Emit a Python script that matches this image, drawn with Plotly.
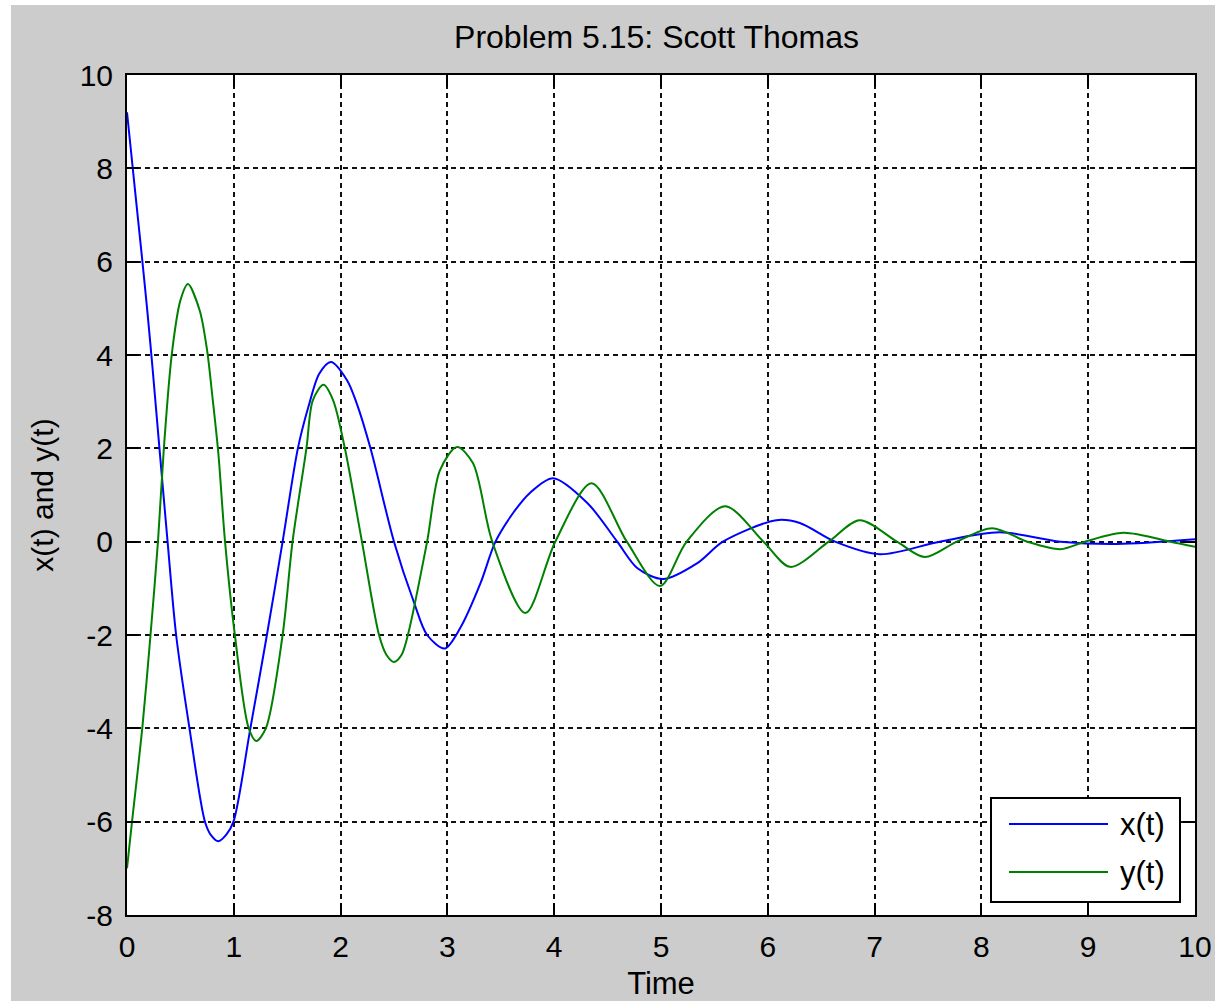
import plotly.graph_objects as go

# ---- data ----
t_x = [0.0, 0.045, 0.09, 0.14, 0.19, 0.24, 0.30, 0.38, 0.46, 0.585,
       0.73, 0.79, 0.855, 0.93, 0.997, 1.155, 1.31, 1.457, 1.60, 1.70,
       1.80, 1.91, 2.06, 2.15, 2.28, 2.50, 2.69, 2.81, 2.975, 3.12,
       3.31, 3.45, 3.62, 3.77, 3.99, 4.31, 4.59, 4.78, 5.02, 5.34,
       5.58, 6.08, 6.30, 6.63, 7.05, 7.61, 8.17, 8.74, 9.27, 10.0]
x_vals = [9.2, 8.2, 7.2, 6.1, 4.95, 3.7, 2.1, 0.0, -2.0, -4.0,
          -6.0, -6.3, -6.42, -6.28, -6.0, -4.0, -2.0, 0.0, 2.0, 2.9,
          3.6, 3.85, 3.46, 2.97, 2.0, 0.0, -1.32, -2.0, -2.29, -1.85,
          -0.89, 0.0, 0.63, 1.04, 1.36, 0.83, 0.0, -0.57, -0.80, -0.46,
          0.0, 0.46, 0.40, 0.0, -0.27, 0.0, 0.20, 0.0, -0.05, 0.05]

t_y = [0.0, 0.047, 0.143, 0.22, 0.29, 0.345, 0.42, 0.50, 0.57, 0.68,
       0.75, 0.80, 0.855, 0.918, 1.01, 1.14, 1.21, 1.30, 1.457, 1.55,
       1.68, 1.74, 1.84, 1.93, 2.04, 2.20, 2.36, 2.43, 2.50, 2.57,
       2.63, 2.81, 2.93, 3.09, 3.24, 3.42, 3.73, 4.01, 4.35, 4.68,
       4.99, 5.24, 5.60, 5.96, 6.21, 6.57, 6.86, 7.21, 7.47, 7.77,
       8.10, 8.43, 8.74, 8.97, 9.33, 9.77, 10.0]
y_vals = [-7.0, -6.0, -4.0, -2.0, 0.0, 2.0, 4.03, 5.17, 5.52, 4.96,
          4.1, 3.1, 1.9, 0.0, -2.0, -4.0, -4.27, -4.0, -2.0, 0.0,
          2.0, 3.03, 3.36, 3.03, 2.0, 0.0, -2.0, -2.43, -2.58, -2.43,
          -2.0, 0.0, 1.53, 2.03, 1.68, 0.0, -1.53, 0.0, 1.25, 0.0,
          -0.95, 0.0, 0.76, 0.0, -0.54, 0.0, 0.46, 0.0, -0.33, 0.0,
          0.29, 0.0, -0.16, 0.0, 0.19, 0.0, -0.11]

series_names = ["x(t)", "y(t)"]
series_colors = ["#0000ff", "#008000"]
x_ticks = list(range(0, 11))
y_ticks = list(range(-8, 11, 2))

title_text = "Problem 5.15: Scott Thomas"
x_title = "Time"
y_title = "x(t) and y(t)"

FONT = "Liberation Sans, Arial, Helvetica, sans-serif"

fig = go.Figure()
fig.add_trace(go.Scatter(x=t_x, y=x_vals, mode="lines", name=series_names[0],
                         line=dict(color=series_colors[0], width=2, shape="spline", smoothing=0.85),
                         showlegend=False))
fig.add_trace(go.Scatter(x=t_y, y=y_vals, mode="lines", name=series_names[1],
                         line=dict(color=series_colors[1], width=2, shape="spline", smoothing=0.85),
                         showlegend=False))

axis_common = dict(
    showline=True, linecolor="black", linewidth=2, mirror="ticks",
    ticks="inside", ticklen=12, tickwidth=2, tickcolor="black",
    showgrid=True, gridcolor="#111111", gridwidth=2, griddash="5px,4px",
    zeroline=False, automargin=False,
    tickfont=dict(family=FONT, size=30, color="black"),
)

fig.update_xaxes(range=[0, 10], tickvals=x_ticks, ticktext=[str(v) for v in x_ticks],
                 title=dict(text=x_title, font=dict(family=FONT, size=31, color="black"), standoff=10),
                 ticklabelstandoff=4, **axis_common)
fig.update_yaxes(range=[-8, 10], tickvals=y_ticks, ticktext=[str(v) for v in y_ticks],
                 title=dict(text=y_title, font=dict(family=FONT, size=30, color="black"), standoff=17),
                 ticklabelstandoff=6, **axis_common)

shapes = [
    # white strips at the picture's left and top edges
    dict(type="rect", xref="paper", yref="paper", x0=-0.2, x1=(11 - 127) / 1068, y0=-0.2, y1=1.2,
         fillcolor="white", line=dict(width=0), layer="below"),
    dict(type="rect", xref="paper", yref="paper", x0=-0.2, x1=1.2, y0=(915 - 5) / 840, y1=1.2,
         fillcolor="white", line=dict(width=0), layer="below"),
    # legend box
    dict(type="rect", xref="paper", yref="paper", x0=864 / 1068, x1=1053 / 1068,
         y0=(915 - 902) / 840, y1=(915 - 798) / 840,
         fillcolor="white", line=dict(color="black", width=2), layer="above"),
]
annotations = []
legend_rows = [824, 872]
for name, color, row in zip(series_names, series_colors, legend_rows):
    yp = (915 - row) / 840
    shapes.append(dict(type="line", xref="paper", yref="paper", x0=882 / 1068, x1=981 / 1068,
                       y0=yp, y1=yp, line=dict(color=color, width=2), layer="above"))
    annotations.append(dict(text=name, xref="paper", yref="paper", x=991 / 1068, y=yp,
                            xanchor="left", yanchor="middle", showarrow=False,
                            font=dict(family=FONT, size=31, color="black")))

fig.update_layout(
    width=1215, height=1001,
    margin=dict(l=127, r=20, t=75, b=86, autoexpand=False),
    paper_bgcolor="#cccccc", plot_bgcolor="white",
    title=dict(text=title_text, x=(656.5 - 127) / 1068, xref="paper", xanchor="center",
               y=1 - 37 / 1001, yref="container", yanchor="middle",
               font=dict(family=FONT, size=32, color="black")),
    shapes=shapes, annotations=annotations,
    showlegend=False,
)

fig.write_html("out.html")
